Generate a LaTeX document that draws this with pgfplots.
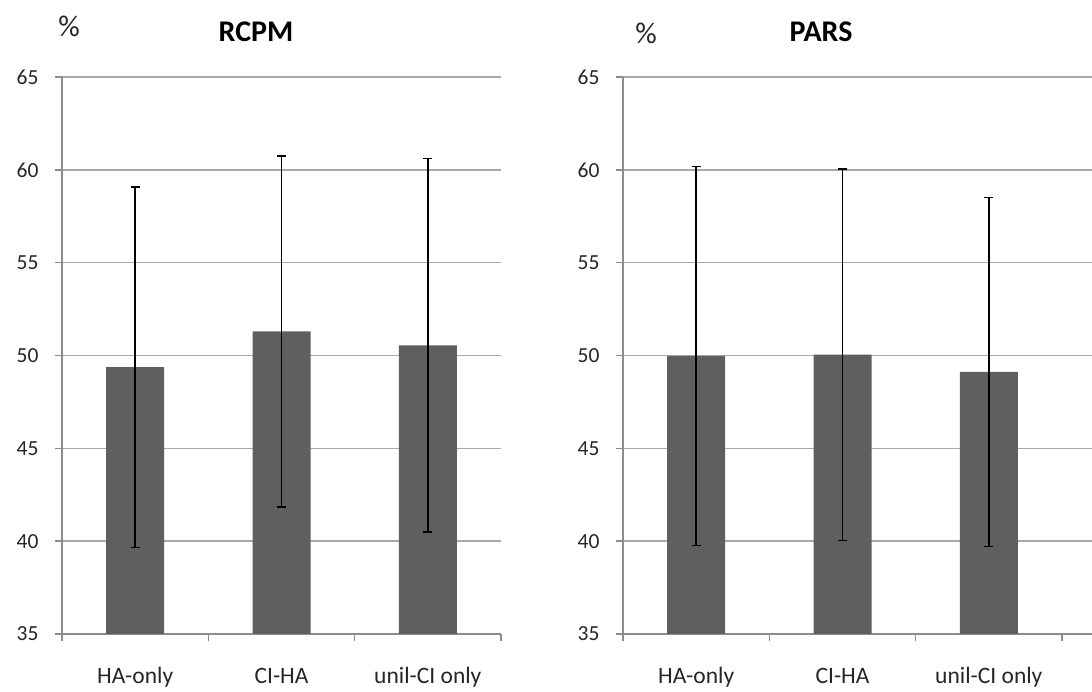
\documentclass[border=0pt]{standalone}
\usepackage{fontspec}
\setmainfont{Carlito}
\usepackage{pgfplots}
\pgfplotsset{compat=1.18}
\usepackage{pgfplotstable}
\definecolor{barc}{HTML}{5F5F5F}
\definecolor{gridc}{HTML}{A8A8A8}
\definecolor{axc}{HTML}{8C8C8C}

\pgfplotstableread{
x y e
0 49.37 9.70
1 51.30 9.45
2 50.55 10.05
}\rcpm
\pgfplotstableread{
x y e
0 49.97 10.20
1 50.04 10.00
2 49.12 9.40
}\pars

\pgfplotsset{mystyle/.style={
  scale only axis, height=557pt,
  ymin=35, ymax=65, ytick={35,40,...,65},
  xmin=-0.5,
  axis x line*=bottom, axis y line*=left,
  axis line style={axc, line width=1.5pt, -},
  ymajorgrids, grid style={gridc, line width=1.5pt},
  tick style={axc, line width=1.5pt},
  major tick length=7pt, tick align=outside,
  xtick={-0.5,0.5,1.5,2.5},
  x tick label as interval,
  xticklabels={HA-only,CI-HA,unil-CI only},
  xticklabel style={font=\fontsize{23.5}{23.5}\selectfont, yshift=-22pt, text=black!85, text height=17pt, text depth=5pt},
  yticklabel style={font=\fontsize{21.5}{21.5}\selectfont, xshift=-13pt, text=black!85},
  /pgf/number format/assume math mode=true,
  ybar, bar width=58pt,
  clip=true,
}}
\pgfplotsset{barstyle/.style={
  fill=barc, draw=none,
  error bars/.cd, y dir=both, y explicit,
  error bar style={black, line width=1.5pt},
  error mark options={rotate=90, mark size=4.5pt, line width=1.5pt, black},
}}

\begin{document}
\begin{tikzpicture}
\path[use as bounding box] (0,0) rectangle (1092pt,692pt);
\begin{axis}[mystyle, width=439pt, xmax=2.5, at={(62pt,58pt)}, anchor=south west]
\addplot[barstyle] table[x=x, y=y, y error=e] {\rcpm};
\end{axis}
\begin{axis}[mystyle, width=469pt, xmax=2.705, at={(623pt,58pt)}, anchor=south west]
\addplot[barstyle] table[x=x, y=y, y error=e] {\pars};
\end{axis}
\node[font=\bfseries\fontsize{30}{30}\selectfont] at (256pt,660pt) {RCPM};
\node[font=\bfseries\fontsize{30}{30}\selectfont] at (821pt,660pt) {PARS};
\node[font=\fontsize{30}{30}\selectfont, text=black!85] at (69pt,666pt) {\%};
\node[font=\fontsize{30}{30}\selectfont, text=black!85] at (646pt,659pt) {\%};
\end{tikzpicture}
\end{document}
